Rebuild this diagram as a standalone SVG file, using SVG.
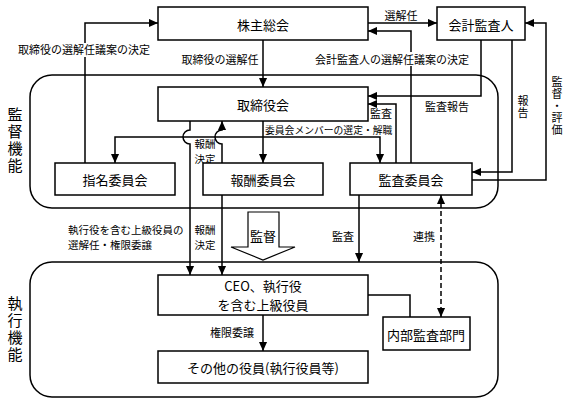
<svg xmlns="http://www.w3.org/2000/svg" width="568" height="404" viewBox="0 0 568 404">
<defs>
<style>
.grp{fill:none;stroke:#000;stroke-width:1.5}
.box{fill:#fff;stroke:#000;stroke-width:1.5}
.ln{fill:none;stroke:#000;stroke-width:1.5}
.ar{marker-end:url(#ah)}
.dash{stroke-dasharray:5,3}
text{font-family:"Noto Sans CJK JP","Noto Sans CJK SC",sans-serif;fill:#000}
.t13{font-size:13px;text-anchor:middle;dominant-baseline:central}
.t11{font-size:11px;text-anchor:middle;dominant-baseline:central}
.t105{font-size:10.5px;text-anchor:middle;dominant-baseline:central}
.t105s{font-size:10.5px;text-anchor:start;dominant-baseline:central}
.t10s{font-size:9.8px;text-anchor:start;dominant-baseline:central}
.v15{font-size:15px;text-anchor:middle;writing-mode:vertical-rl;letter-spacing:2px}
.v11{font-size:11px;text-anchor:middle;writing-mode:vertical-rl;letter-spacing:1px}
.bg{fill:#fff;stroke:none}
</style>
<marker id="ah" viewBox="0 0 10 10" refX="10" refY="5" markerWidth="9" markerHeight="9" markerUnits="userSpaceOnUse" orient="auto-start-reverse">
<path d="M0,0.5 L10,5 L0,9.5 z" fill="#000"/>
</marker>
</defs>
<rect width="568" height="404" fill="#fff"/>

<g id="supervision-group">
<rect class="grp" x="30" y="75" width="468" height="133" rx="22" ry="22"/>
<text class="v15" x="15" y="141">監督機能</text>
</g>
<g id="execution-group">
<rect class="grp" x="30" y="262" width="468" height="135" rx="22" ry="22"/>
<text class="v15" x="15" y="330">執行機能</text>
</g>

<g id="connectors">
<path class="ln ar" d="M85,163 V23 H158"/>
<path class="ln ar" d="M263,40 V87"/>
<path class="ln ar" d="M368,23 H437"/>
<path class="ln ar" d="M411,163 V31 H368"/>
<path class="ln ar" d="M481,40 V96 H368"/>
<path class="ln ar" d="M396,163 V104 H368"/>
<path class="ln ar" d="M512,40 V172 H472"/>
<path class="ln ar" d="M472,180 H546 V23 H525"/>
<path class="ln ar" d="M263,121 V163"/>
<path class="ln ar" d="M115,163 V137 H380 V163" marker-start="url(#ah)"/>
<path class="ln ar" d="M190,121 V130 A7,7 0 0 0 190,144 V275"/>
<path class="ln ar" d="M222,163 V144 A7,7 0 0 1 222,130 V121"/>
<path class="ln ar" d="M222,195 V275"/>
<path class="ln ar" d="M359,195 V262"/>
<path class="ln ar dash" d="M441,195 V317" marker-start="url(#ah)"/>
<path class="ln" d="M368,295 H410 V317"/>
<path class="ln ar" d="M263,315 V351"/>
<polygon points="248,212 279,212 279,247 295,247 263,260 231,247 248,247" fill="#fff" stroke="#000" stroke-width="1.2"/>

<rect class="bg" x="19" y="43" width="131" height="14"/>
<text class="t11" x="84" y="49">取締役の選解任議案の決定</text>
<text class="t11" x="220" y="59">取締役の選解任</text>
<text class="t11" x="401" y="15">選解任</text>
<rect class="bg" x="315" y="52" width="155" height="14"/>
<text class="t11" x="392" y="59">会計監査人の選解任議案の決定</text>
<text class="t11" x="447" y="106">監査報告</text>
<text class="t11" x="381" y="113">監査</text>
<text class="v11" x="523" y="107">報告</text>
<text class="v11" x="557" y="106">監督・評価</text>
<text class="t10s" x="265" y="130">委員会メンバーの選定・解職</text>
<text class="t105" x="205" y="143.3">報酬</text>
<text class="t105" x="205" y="158.7">決定</text>
<text class="t105s" x="68" y="229">執行役を含む上級役員の</text>
<text class="t105s" x="68" y="244.4">選解任・権限委譲</text>
<text class="t105" x="205" y="229">報酬</text>
<text class="t105" x="205" y="244.4">決定</text>
<text class="t13" x="263" y="235">監督</text>
<text class="t11" x="343" y="236">監査</text>
<text class="t11" x="424" y="236">連携</text>
<text class="t11" x="232" y="332">権限委譲</text>
</g>

<g id="shareholders"><rect class="box" x="158" y="7" width="210" height="33"/><text class="t13" x="263" y="24">株主総会</text></g>
<g id="auditor"><rect class="box" x="437" y="7" width="88" height="33"/><text class="t13" x="481" y="24">会計監査人</text></g>
<g id="board"><rect class="box" x="158" y="87" width="210" height="34"/><text class="t13" x="263" y="104">取締役会</text></g>
<g id="nomination"><rect class="box" x="55" y="163" width="120" height="32"/><text class="t13" x="115" y="179">指名委員会</text></g>
<g id="compensation"><rect class="box" x="203" y="163" width="120" height="32"/><text class="t13" x="263" y="179">報酬委員会</text></g>
<g id="audit"><rect class="box" x="350" y="163" width="122" height="32"/><text class="t13" x="411" y="179">監査委員会</text></g>
<g id="ceo"><rect class="box" x="158" y="275" width="210" height="40"/><text class="t13" x="263" y="285.5">CEO、執行役</text><text class="t13" x="263" y="304.5">を含む上級役員</text></g>
<g id="internal-audit"><rect class="box" x="383" y="317" width="87" height="33"/><text class="t13" x="426" y="334">内部監査部門</text></g>
<g id="other-officers"><rect class="box" x="158" y="351" width="210" height="32"/><text class="t13" x="263" y="367">その他の役員(執行役員等)</text></g>
</svg>
